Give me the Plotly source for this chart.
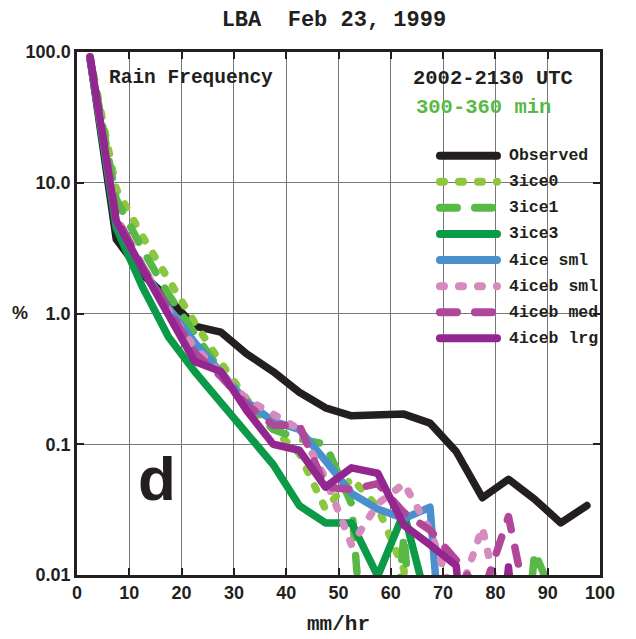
import plotly.graph_objects as go

# ---------------- data ----------------
rain_rate = [2.5, 7.5, 12.5, 17.5, 22.5, 27.5, 32.5, 37.5, 42.5, 47.5,
             52.5, 57.5, 62.5, 67.5, 72.5, 77.5, 82.5, 87.5, 92.5, 97.5]

observed = [90, 3.7, 2.0, 1.3, 0.8, 0.72, 0.49, 0.36, 0.25, 0.19,
            0.165, 0.17, 0.17, 0.145, 0.088, 0.039, 0.054, 0.038, 0.025, 0.034]
ice3_0 = [92, 9.0, 3.9, 1.8, 0.85, 0.42, 0.22, 0.13, 0.085, 0.032,
          0.055, 0.033, 0.011, 1e-4, 1e-4, 1e-4, 1e-4, 1e-4, 1e-4, 1e-4]
ice3_1 = [90, 7.5, 3.1, 1.4, 0.7, 0.36, 0.2, 0.13, 0.11, 0.1,
          0.035, 1e-4, 0.02, 1e-4, 1e-4, 1e-4, 1e-4, 0.015, 0.005, 1e-4]
ice3_3 = [88, 4.5, 1.6, 0.66, 0.36, 0.21, 0.12, 0.07, 0.034, 0.025,
          0.025, 0.0098, 0.03, 0.005, 1e-4, 1e-4, 1e-4, 1e-4, 1e-4, 1e-4]
ice4_sml = [90, 5.0, 2.2, 1.1, 0.6, 0.36, 0.21, 0.15, 0.13, 0.075,
            0.042, 0.032, 0.027, 0.033, 1e-4, 1e-4, 1e-4, 1e-4, 1e-4, 1e-4]
ice4b_sml = [90, 5.5, 2.3, 1.05, 0.55, 0.35, 0.22, 0.17, 0.13, 0.055,
             0.017, 0.035, 0.05, 0.022, 0.006, 0.023, 0.003, 1e-4, 1e-4, 1e-4]
ice4b_med = [90, 5.5, 2.3, 1.05, 0.5, 0.33, 0.2, 0.14, 0.14, 0.047,
             0.045, 0.05, 0.03, 0.022, 0.013, 0.007, 0.028, 0.003, 1e-4, 1e-4]
ice4b_lrg = [92, 5.1, 2.2, 0.98, 0.43, 0.36, 0.18, 0.1, 0.09, 0.047,
             0.066, 0.06, 0.024, 0.017, 0.0118, 1e-4, 0.0115, 1e-4, 1e-4, 1e-4]

series_names = ["Observed", "3ice0", "3ice1", "3ice3", "4ice sml",
                "4iceb sml", "4iceb med", "4iceb lrg"]
series_values = [observed, ice3_0, ice3_1, ice3_3, ice4_sml,
                 ice4b_sml, ice4b_med, ice4b_lrg]
series_colors = ["#231F20", "#8DC63F", "#58B947", "#0A9A48", "#4A90CE",
                 "#D68BBE", "#B0479A", "#93268F"]
series_dash = ["solid", "4px,15px", "17px,18px", "solid", "solid",
               "4px,15px", "17px,18px", "solid"]

x_ticks = [0, 10, 20, 30, 40, 50, 60, 70, 80, 90, 100]
y_ticks = [0.01, 0.1, 1, 10, 100]
y_tick_labels = ["0.01", "0.1", "1.0", "10.0", "100.0"]

SERIF = "Liberation Mono"
SANS = "Liberation Sans"

fig = go.Figure()
for name, vals, col, dsh in zip(series_names, series_values, series_colors, series_dash):
    fig.add_trace(go.Scatter(x=rain_rate, y=vals, mode="lines", name=name,
                             line=dict(color=col, width=7.5, dash=dsh),
                             showlegend=False))

# manual legend (paper coords)
leg_x0, leg_x1, leg_tx = 0.694, 0.803, 0.822
leg_top, leg_step = 0.8018, 0.0499
for i, (name, col, dsh) in enumerate(zip(series_names, series_colors, series_dash)):
    yy = leg_top - i * leg_step
    fig.add_shape(type="line", xref="paper", yref="paper", x0=leg_x0, x1=leg_x1,
                  y0=yy, y1=yy, line=dict(color=col, width=8, dash=dsh))
    fig.add_annotation(xref="paper", yref="paper", x=leg_tx, y=yy, text=name,
                       showarrow=False, xanchor="left", yanchor="middle",
                       font=dict(family=SERIF, size=16.5, color="#231F20", weight="bold"))

fig.add_annotation(xref="paper", yref="paper", x=0.0574, y=0.950, text="Rain Frequency",
                   showarrow=False, xanchor="left", yanchor="middle",
                   font=dict(family=SERIF, size=19.5, color="#231F20", weight="bold"))
fig.add_annotation(xref="paper", yref="paper", x=0.952, y=0.950, text="2002-2130 UTC",
                   showarrow=False, xanchor="right", yanchor="middle",
                   font=dict(family=SERIF, size=20.5, color="#231F20", weight="bold"))
fig.add_annotation(xref="paper", yref="paper", x=0.778, y=0.893, text="300-360 min",
                   showarrow=False, xanchor="center", yanchor="middle",
                   font=dict(family=SERIF, size=20.5, color="#58B947", weight="bold"))
fig.add_annotation(xref="paper", yref="paper", x=0.153, y=0.185, text="d",
                   showarrow=False, xanchor="center", yanchor="middle",
                   font=dict(family=SANS, size=62, color="#231F20", weight="bold"))
fig.add_annotation(xref="paper", yref="paper", x=-0.109, y=0.501, text="%",
                   showarrow=False, xanchor="center", yanchor="middle",
                   font=dict(family=SANS, size=18, color="#231F20", weight="bold"))
fig.add_annotation(xref="paper", yref="paper", x=0.5, y=-0.0956, text="mm/hr",
                   showarrow=False, xanchor="center", yanchor="middle",
                   font=dict(family=SERIF, size=21, color="#231F20", weight="bold"))

fig.update_layout(
    width=636, height=639,
    margin=dict(l=77, r=36, t=52, b=64),
    paper_bgcolor="white", plot_bgcolor="white",
    title=dict(text="LBA  Feb 23, 1999", x=0.525, xanchor="center", y=0.972,
               yanchor="middle", font=dict(family=SERIF, size=22, color="#231F20", weight="bold")),
    showlegend=False,
)
fig.update_xaxes(range=[0, 100], tickvals=x_ticks, showgrid=True, gridcolor="#777777",
                 gridwidth=1, showline=True, linecolor="#231F20", linewidth=2.5, mirror="ticks",
                 ticks="inside", ticklen=7, tickwidth=2, tickcolor="#231F20", zeroline=False,
                 tickfont=dict(family=SANS, size=18, color="#231F20", weight="bold"))
fig.update_yaxes(type="log", range=[-2, 2], tickvals=y_ticks, ticktext=y_tick_labels,
                 showgrid=True, gridcolor="#777777", gridwidth=1, showline=True,
                 linecolor="#231F20", linewidth=2.5, mirror="ticks", ticks="inside",
                 ticklen=7, tickwidth=2, tickcolor="#231F20", zeroline=False,
                 tickfont=dict(family=SANS, size=18, color="#231F20", weight="bold"))

post = """
document.body.style.margin = '0';
document.body.style.overflow = 'hidden';
var s = document.createElement('style');
s.innerHTML = 'body{margin:0 !important;} .scatterlayer path.js-line, .shapelayer path {stroke-linecap: round !important; stroke-linejoin: round !important;}';
document.head.appendChild(s);
"""
fig.write_html("out.html", post_script=post, config={"displayModeBar": False})
